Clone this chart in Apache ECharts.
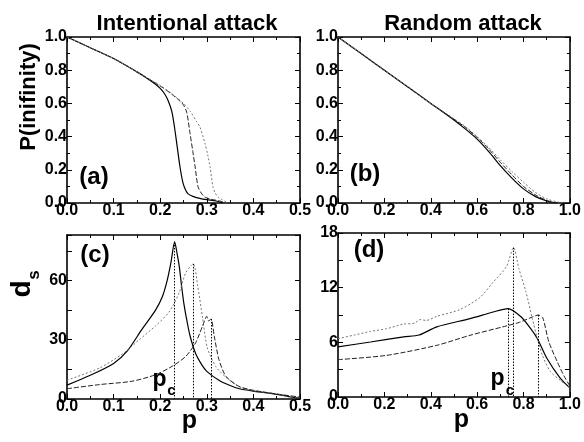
<!DOCTYPE html>
<html><head><meta charset="utf-8">
<script src="https://cdn.jsdelivr.net/npm/echarts@6/dist/echarts.min.js"></script>
<style>html,body{margin:0;padding:0;background:#fff}#c{width:584px;height:442px}</style>
</head><body><div id="c"></div><script>
const FONT = "'Liberation Sans', Arial, sans-serif";

// ---- Panel (a): Intentional attack, P(infinity) vs p ----
const aSolid = [[0,1.0],[0.05,0.935],[0.1,0.87],[0.15,0.79],[0.17,0.755],[0.19,0.715],[0.2,0.69],[0.21,0.655],[0.218,0.61],[0.225,0.55],[0.23,0.47],[0.235,0.37],[0.2425,0.217],[0.249,0.12],[0.255,0.075],[0.26,0.055],[0.27,0.04],[0.285,0.028],[0.3,0.02],[0.32,0.012],[0.335,0]];
const aDash  = [[0,1.0],[0.05,0.935],[0.1,0.87],[0.15,0.79],[0.2,0.705],[0.225,0.655],[0.24,0.62],[0.25,0.59],[0.257,0.545],[0.264,0.42],[0.27,0.31],[0.275,0.217],[0.281,0.10],[0.288,0.06],[0.296,0.036],[0.31,0.022],[0.328,0.012],[0.34,0]];
const aDot   = [[0,1.0],[0.05,0.935],[0.1,0.87],[0.15,0.79],[0.2,0.708],[0.225,0.658],[0.25,0.60],[0.265,0.55],[0.278,0.49],[0.285,0.46],[0.296,0.36],[0.302,0.29],[0.307,0.217],[0.313,0.10],[0.318,0.06],[0.324,0.036],[0.333,0.02],[0.345,0]];

// ---- Panel (b): Random attack, P(infinity) vs p ----
const bSolid = [[0,1],[0.1,0.9],[0.2,0.8],[0.3,0.7],[0.4,0.6],[0.5,0.5],[0.55,0.445],[0.6,0.385],[0.65,0.31],[0.7,0.225],[0.75,0.15],[0.8,0.085],[0.85,0.04],[0.9,0.012],[0.93,0.003],[0.95,0]];
const bDash  = [[0,1],[0.1,0.9],[0.2,0.8],[0.3,0.7],[0.4,0.6],[0.5,0.505],[0.55,0.455],[0.6,0.395],[0.65,0.325],[0.7,0.245],[0.75,0.17],[0.8,0.10],[0.85,0.05],[0.9,0.016],[0.94,0]];
const bDot   = [[0,1],[0.1,0.9],[0.2,0.8],[0.3,0.7],[0.4,0.6],[0.5,0.508],[0.55,0.46],[0.6,0.40],[0.65,0.335],[0.7,0.26],[0.75,0.19],[0.8,0.125],[0.85,0.065],[0.9,0.025],[0.95,0.005],[0.97,0]];

// ---- Panel (c): Intentional attack, d_s vs p ----
const cSolid = [[0,7],[0.05,12],[0.1,18],[0.13,24.5],[0.16,35],[0.19,45],[0.205,52],[0.215,60],[0.223,69],[0.231,79.5],[0.236,74],[0.241,67],[0.246,57],[0.251,48],[0.257,40],[0.264,32],[0.276,23],[0.29,17],[0.3,14],[0.326,9.5],[0.35,6.8],[0.37,5.2],[0.4,4.0],[0.43,3.1],[0.46,2.0],[0.48,1.0],[0.5,0.5]];
const cDot   = [[0,9.5],[0.07,15.7],[0.12,23],[0.155,30],[0.19,37],[0.219,44],[0.241,54],[0.255,64],[0.271,68.4],[0.28,58],[0.291,41],[0.301,26],[0.319,16.5],[0.341,11],[0.37,6.2],[0.4,4.2],[0.45,2.5],[0.5,0.6]];
const cDash  = [[0,5.2],[0.07,7.3],[0.14,9],[0.19,12.3],[0.226,16.6],[0.255,21.6],[0.276,28.4],[0.291,37],[0.3,41.8],[0.304,39.5],[0.309,40.5],[0.316,31.8],[0.326,20],[0.341,11.5],[0.369,6.4],[0.4,4.4],[0.426,3.4],[0.46,2.2],[0.5,1]];
const pcC = [0.231, 0.271, 0.309];
const pcCpeak = [79.5, 68.4, 40.5];

// ---- Panel (d): Random attack, d_s vs p ----
const dDot   = [[0,6.4],[0.07,6.8],[0.14,7.2],[0.21,7.5],[0.283,8.0],[0.33,8.1],[0.354,8.5],[0.38,8.4],[0.426,8.85],[0.526,9.6],[0.611,10.9],[0.669,12.6],[0.726,14.3],[0.757,16.4],[0.78,14.1],[0.81,11.6],[0.838,8.6],[0.86,6.4],[0.881,4.6],[0.916,2.8],[0.96,1.8],[1.0,1.0]];
const dSolid = [[0,5.5],[0.14,6.04],[0.283,6.6],[0.35,6.8],[0.426,7.7],[0.569,8.6],[0.669,9.33],[0.733,9.7],[0.789,8.8],[0.831,7.5],[0.86,6.4],[0.902,4.2],[0.959,2.05],[1.0,1.0]];
const dDash  = [[0,4.1],[0.21,4.57],[0.426,5.67],[0.569,6.77],[0.711,7.7],[0.783,8.2],[0.84,8.8],[0.864,9.0],[0.883,8.7],[0.909,6.07],[0.945,3.9],[0.975,2.3],[1.0,1.2]];
const pcD = [0.733, 0.757, 0.864];
const pcDpeak = [9.7, 16.4, 9.0];

// ---- tick label lists ----
const yTicksAB = [0, 0.2, 0.4, 0.6, 0.8, 1.0];
const xTicksAC = [0, 0.1, 0.2, 0.3, 0.4, 0.5];
const xTicksBD = [0, 0.2, 0.4, 0.6, 0.8, 1.0];
const yLabelsC = [0, 30, 60];
const yLabelsD = [0, 6, 12, 18];

const grids = [
  {left: 67, top: 37, width: 233, height: 166},
  {left: 338, top: 37, width: 234, height: 166},
  {left: 67, top: 235, width: 233, height: 164},
  {left: 338, top: 233, width: 235, height: 164}
];

function lab(show, fmt) {
  return {show: show, margin: 0, color: '#000', fontWeight: 'bold', fontSize: 16, fontFamily: FONT,
          formatter: fmt, showMinLabel: true, showMaxLabel: true};
}
function axis(gi, pos, min, max, interval, fmt, labels, minorSplit) {
  return {
    gridIndex: gi, type: 'value', position: pos, min: min, max: max, interval: interval,
    axisLine: {show: true, onZero: false, lineStyle: {color: '#000', width: 1.6}},
    axisTick: {show: true, inside: true, length: 5, lineStyle: {color: '#000', width: 1}},
    minorTick: {show: minorSplit > 1, splitNumber: minorSplit, length: 3, lineStyle: {color: '#000', width: 1}},
    splitLine: {show: false},
    axisLabel: lab(labels, fmt)
  };
}
const f1 = v => v.toFixed(1);
const fC = v => (yLabelsC.indexOf(Math.round(v)) >= 0 && Math.abs(v - Math.round(v)) < 1e-6) ? String(Math.round(v)) : '';
const fD = v => yLabelsD.indexOf(v) >= 0 ? String(v) : '';

const xAxes = [
  axis(0, 'bottom', xTicksAC[0], xTicksAC[xTicksAC.length-1], 0.1, f1, true, 2),
  axis(0, 'top', 0, 0.5, 0.1, f1, false, 2),
  axis(1, 'bottom', xTicksBD[0], xTicksBD[xTicksBD.length-1], 0.2, f1, true, 2),
  axis(1, 'top', 0, 1, 0.2, f1, false, 2),
  axis(2, 'bottom', xTicksAC[0], xTicksAC[xTicksAC.length-1], 0.1, f1, true, 2),
  axis(2, 'top', 0, 0.5, 0.1, f1, false, 2),
  axis(3, 'bottom', xTicksBD[0], xTicksBD[xTicksBD.length-1], 0.2, f1, true, 2),
  axis(3, 'top', 0, 1, 0.2, f1, false, 2)
];
const yAxes = [
  axis(0, 'left', yTicksAB[0], yTicksAB[yTicksAB.length-1], 0.2, f1, true, 2),
  axis(0, 'right', 0, 1, 0.2, f1, false, 2),
  axis(1, 'left', yTicksAB[0], yTicksAB[yTicksAB.length-1], 0.2, f1, true, 2),
  axis(1, 'right', 0, 1, 0.2, f1, false, 2),
  axis(2, 'left', 0, 83, 15, fC, true, 1),
  axis(2, 'right', 0, 83, 15, fC, false, 1),
  axis(3, 'left', 0, 18, 3, fD, true, 1),
  axis(3, 'right', 0, 18, 3, fD, false, 1)
];

const STY = {
  solid: {color: '#000', width: 1.2, type: 'solid'},
  dash: {color: '#222', width: 1, type: [5, 2]},
  dot: {color: '#777', width: 1, type: [2, 2]}
};
function ser(gi, data, st, pc, peak) {
  const s = {
    type: 'line', xAxisIndex: gi * 2, yAxisIndex: gi * 2, data: data, showSymbol: false, smooth: 0.25,
    lineStyle: STY[st], silent: true, z: 3
  };
  if (pc !== undefined) {
    s.markLine = {
      silent: true, symbol: ['none', 'arrow'], symbolSize: [0, 8], animation: false,
      label: {show: false},
      lineStyle: {color: '#000', width: 1, type: [1.5, 1.5]},
      data: [[{coord: [pc, peak]}, {coord: [pc, 0]}]]
    };
  }
  return s;
}

const series = [
  ser(0, aSolid, 'solid'), ser(0, aDash, 'dash'), ser(0, aDot, 'dot'),
  ser(1, bSolid, 'solid'), ser(1, bDash, 'dash'), ser(1, bDot, 'dot'),
  ser(2, cSolid, 'solid', pcC[0], pcCpeak[0]), ser(2, cDot, 'dot', pcC[1], pcCpeak[1]), ser(2, cDash, 'dash', pcC[2], pcCpeak[2]),
  ser(3, dSolid, 'solid', pcD[0], pcDpeak[0]), ser(3, dDot, 'dot', pcD[1], pcDpeak[1]), ser(3, dDash, 'dash', pcD[2], pcDpeak[2])
];

function txt(text, x, y, size, weight, rot, color) {
  return {type: 'text', x: x, y: y, rotation: rot || 0, z: 10,
    style: {text: text, x: 0, y: 0, align: 'center', verticalAlign: 'middle', textAlign: 'center', textVerticalAlign: 'middle',
            fill: color || '#000', font: (weight || 'normal') + ' ' + size + 'px ' + FONT}};
}
const graphics = [
  txt('Intentional attack', 187, 24, 22, 'bold'),
  txt('Random attack', 463, 24, 22, 'bold'),
  txt('P(inifinity)', 29, 97, 22, 'bold', Math.PI / 2),
  txt('d', 22, 289, 28, 'bold', Math.PI / 2),
  txt('s', 34, 275, 17, 'bold', Math.PI / 2),
  txt('(a)', 94, 177, 24, 'bold'),
  txt('(b)', 365, 174, 24, 'bold'),
  txt('(c)', 95, 255, 24, 'bold'),
  txt('(d)', 369, 250, 24, 'bold'),
  txt('p', 189.5, 421, 25, 'bold'),
  txt('p', 461.5, 420, 25, 'bold'),
  txt('p', 159.5, 380, 23, 'bold'),
  txt('c', 171.5, 391, 15, 'bold'),
  txt('p', 497.5, 379, 23, 'bold'),
  txt('c', 510, 391, 15, 'bold')
];

const chart = echarts.init(document.getElementById('c'), null, {renderer: 'canvas'});
chart.setOption({
  animation: false,
  backgroundColor: '#fff',
  grid: grids.map(g => Object.assign({show: false, containLabel: false}, g)),
  xAxis: xAxes,
  yAxis: yAxes,
  series: series,
  graphic: graphics
});
</script></body></html>
